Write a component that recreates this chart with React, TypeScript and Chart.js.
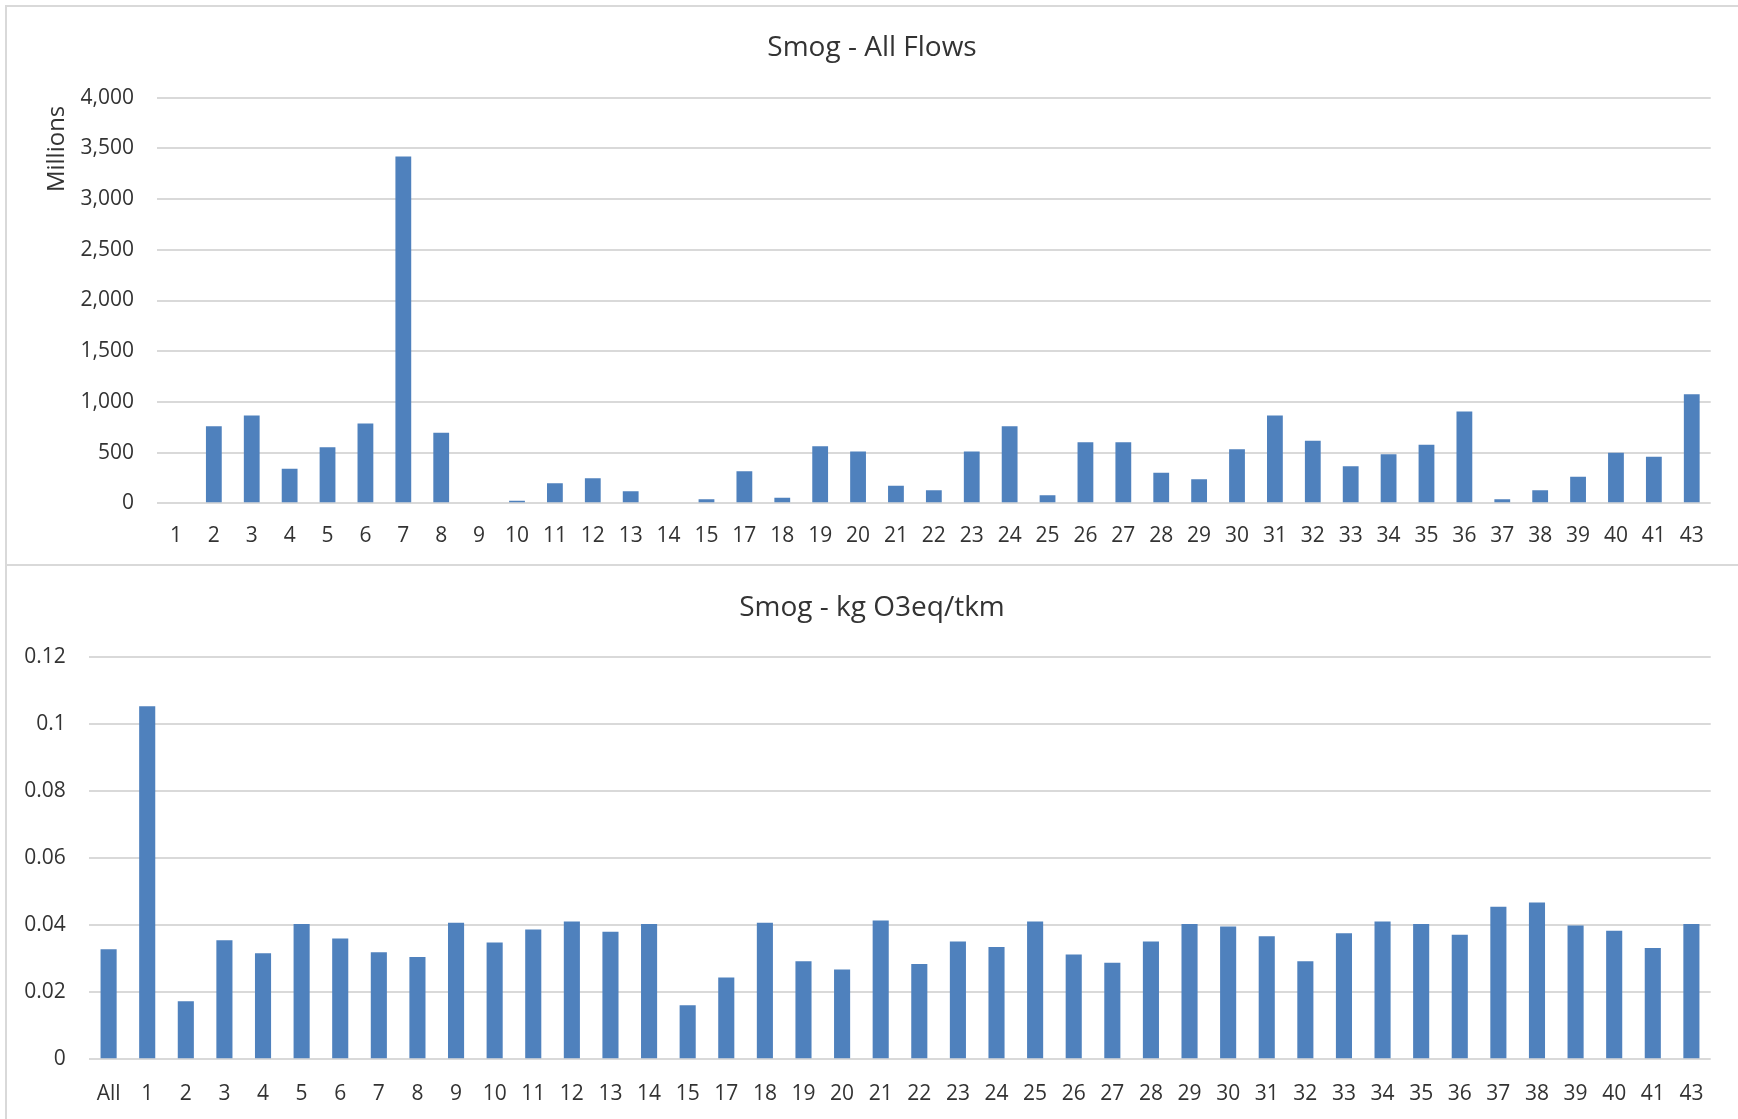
import React, { useEffect, useRef } from 'react';
import { Chart, registerables } from 'chart.js';

Chart.register(...registerables);

// ---------- data ----------
const flowLabels = ['1','2','3','4','5','6','7','8','9','10','11','12','13','14','15','17','18','19','20','21','22','23','24','25','26','27','28','29','30','31','32','33','34','35','36','37','38','39','40','41','43'];
const flowValues = [0,759,867,340,552,788,3420,695,0,25,197,247,118,0,39,315,54,562,512,172,129,512,759,79,602,602,301,236,534,867,616,365,484,577,906,39,129,261,498,458,1075];

const intensityLabels = ['All','1','2','3','4','5','6','7','8','9','10','11','12','13','14','15','17','18','19','20','21','22','23','24','25','26','27','28','29','30','31','32','33','34','35','36','37','38','39','40','41','43'];
const intensityValues = [0.0328,0.1052,0.0173,0.0355,0.0316,0.0403,0.0360,0.0319,0.0305,0.0407,0.0348,0.0387,0.0411,0.0380,0.0403,0.0161,0.0244,0.0407,0.0292,0.0268,0.0414,0.0284,0.0351,0.0335,0.0411,0.0312,0.0288,0.0351,0.0403,0.0396,0.0367,0.0292,0.0376,0.0411,0.0403,0.0371,0.0455,0.0467,0.0399,0.0383,0.0332,0.0403];

const topTitle = 'Smog - All Flows';
const bottomTitle = 'Smog - kg O3eq/tkm';
const unitsLabel = 'Millions';
const topMax = 4000;
const topStep = 500;
const bottomMax = 0.12;
const bottomStep = 0.02;

// ---------- style ----------
const FONT = "'Open Sans', sans-serif";
const TEXT = '#333333';
const GRID = '#d9d9d9';
const BAR = '#4f81bd';
const TICK_SIZE = 21;
const TITLE_SIZE = 28;
const RIGHT_GAP = 26.3;

const unitsPlugin = {
  id: 'unitsLabel',
  afterDraw(chart: any) {
    const { ctx, chartArea } = chart;
    ctx.save();
    ctx.font = `24px ${FONT}`;
    ctx.fillStyle = TEXT;
    ctx.textAlign = 'right';
    ctx.textBaseline = 'middle';
    ctx.translate(chartArea.left - 100, chartArea.top + 8);
    ctx.rotate(-Math.PI / 2);
    ctx.fillText(unitsLabel, 0, 0);
    ctx.restore();
  },
};

interface PanelCfg {
  labels: string[];
  values: number[];
  title: string;
  max: number;
  step: number;
  yWidth: number;
  yPad: number;
  xHeight: number;
  xPad: number;
  titleTop: number;
  titleBottom: number;
  fmt?: (v: number) => string;
  plugins?: any[];
}

function makeChart(canvas: HTMLCanvasElement, c: PanelCfg) {
  return new Chart(canvas, {
    type: 'bar',
    data: {
      labels: c.labels,
      datasets: [
        {
          data: c.values,
          backgroundColor: BAR,
          borderWidth: 0,
          barPercentage: 0.417,
          categoryPercentage: 1,
          xAxisID: 'x',
          yAxisID: 'y',
        },
      ],
    },
    options: {
      responsive: false,
      animation: false,
      devicePixelRatio: 1,
      layout: { padding: { left: 0, right: 1, top: 0, bottom: 0 } },
      plugins: {
        legend: { display: false },
        tooltip: { enabled: false },
        title: {
          display: true,
          text: c.title,
          color: TEXT,
          font: { family: FONT, size: TITLE_SIZE, weight: 'normal' },
          padding: { top: c.titleTop, bottom: c.titleBottom },
        },
      },
      scales: {
        x: {
          grid: { display: false, drawTicks: false },
          border: { display: false },
          ticks: {
            color: TEXT,
            font: { family: FONT, size: TICK_SIZE },
            padding: c.xPad,
            autoSkip: false,
            maxRotation: 0,
            minRotation: 0,
          },
          afterFit: (s: any) => {
            s.height = c.xHeight;
          },
        },
        y: {
          position: 'left',
          min: 0,
          max: c.max,
          grid: { color: GRID, lineWidth: 2, drawTicks: false },
          border: { display: false },
          ticks: {
            stepSize: c.step,
            color: TEXT,
            font: { family: FONT, size: TICK_SIZE },
            padding: c.yPad,
            ...(c.fmt ? { callback: (v: any) => c.fmt!(Number(v)) } : {}),
          },
          afterFit: (s: any) => {
            s.width = c.yWidth;
          },
        },
        gap: {
          type: 'linear',
          axis: 'y',
          position: 'right',
          display: true,
          grid: { display: false, drawTicks: false },
          border: { display: false },
          ticks: { display: false },
          afterFit: (s: any) => {
            s.width = RIGHT_GAP;
          },
        },
      },
    } as any,
    plugins: c.plugins || [],
  });
}

export default function App() {
  const topRef = useRef<HTMLCanvasElement>(null);
  const botRef = useRef<HTMLCanvasElement>(null);

  useEffect(() => {
    const top = makeChart(topRef.current!, {
      labels: flowLabels,
      values: flowValues,
      title: topTitle,
      max: topMax,
      step: topStep,
      yWidth: 150,
      yPad: 23,
      xHeight: 60.7,
      xPad: 19.9,
      titleTop: 24.4,
      titleBottom: 32.7,
      plugins: [unitsPlugin],
    });
    const bot = makeChart(botRef.current!, {
      labels: intensityLabels,
      values: intensityValues,
      title: bottomTitle,
      max: bottomMax,
      step: bottomStep,
      yWidth: 82.3,
      yPad: 23.6,
      xHeight: 59.7,
      xPad: 22.4,
      titleTop: 25.4,
      titleBottom: 31.7,
      fmt: (v) => String(Number(v.toFixed(2))),
    });
    return () => {
      top.destroy();
      bot.destroy();
    };
  }, []);

  const border = `2px solid ${GRID}`;
  return (
    <div
      style={{
        position: 'absolute',
        left: 0,
        top: 0,
        width: 1738,
        height: 1119,
        overflow: 'hidden',
        background: '#ffffff',
      }}
    >
      <div
        style={{
          position: 'absolute',
          left: 5,
          top: 5,
          width: 1800,
          height: 1200,
          borderTop: border,
          borderLeft: border,
          boxSizing: 'border-box',
        }}
      />
      <div
        style={{
          position: 'absolute',
          left: 5,
          top: 564,
          width: 1800,
          height: 1200,
          borderTop: border,
          borderLeft: border,
          boxSizing: 'border-box',
        }}
      />
      <canvas
        ref={topRef}
        width={1731}
        height={557}
        style={{ position: 'absolute', left: 7, top: 7, width: 1731, height: 557 }}
      />
      <canvas
        ref={botRef}
        width={1731}
        height={553}
        style={{ position: 'absolute', left: 7, top: 566, width: 1731, height: 553 }}
      />
    </div>
  );
}
